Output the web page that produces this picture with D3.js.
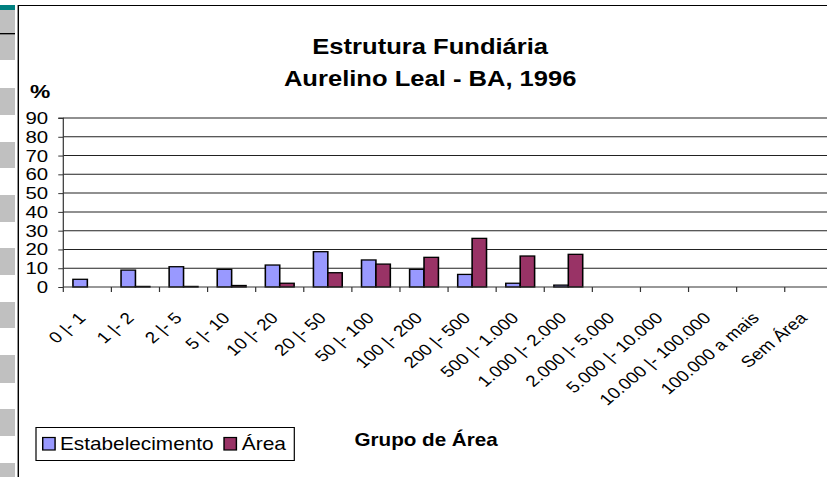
<!DOCTYPE html>
<html>
<head>
<meta charset="utf-8">
<script src="https://cdn.jsdelivr.net/npm/d3@7"></script>
<style>
  html, body { margin: 0; padding: 0; background: #fff; }
  svg { display: block; }
  text { font-family: "Liberation Sans", Arial, sans-serif; fill: #000; }
</style>
</head>
<body>
<div id="chart"></div>
<script>
const categories = [
  '0 |- 1', '1 |- 2', '2 |- 5', '5 |- 10', '10 |- 20', '20 |- 50',
  '50 |- 100', '100 |- 200', '200 |- 500', '500 |- 1.000',
  '1.000 |- 2.000', '2.000 |- 5.000', '5.000 |- 10.000',
  '10.000 |- 100.000', '100.000 a mais', 'Sem Área'
];
const estabelecimento = [4.1, 9.0, 10.8, 9.4, 11.7, 18.8, 14.4, 9.4, 6.7, 2.0, 1.0, 0, 0, 0, 0, 0];
const area = [0, 0.3, 0.3, 0.8, 2.0, 7.6, 12.2, 15.8, 25.9, 16.5, 17.4, 0, 0, 0, 0, 0];
const seriesNames = ['Estabelecimento', 'Área'];
const yTicks = [0, 10, 20, 30, 40, 50, 60, 70, 80, 90];

// the source picture is stretched sideways, so draw narrow and stretch
const SX = 1.2;
const WIDTH = 827;
const HEIGHT = 477;
const W = WIDTH / SX;

const LEFT = 52.75;
const STEP = 40.08;
const TOP = 118;
const BOTTOM = 287;
const COLORS = ['#9999ff', '#993366'];

const svg = d3
  .select('#chart')
  .append('svg')
  .attr('width', WIDTH)
  .attr('height', HEIGHT)
  .attr('viewBox', `0 0 ${W} ${HEIGHT}`)
  .attr('preserveAspectRatio', 'none');

// window side strip
const strip = svg.append('g');
strip.append('rect').attr('x', 0).attr('y', 5).attr('width', 12.5).attr('height', 5).attr('fill', '#008080');
[[10, 33], [35, 60], [88, 115], [142, 168], [195, 222], [248, 275], [302, 328], [355, 383], [409, 436], [463, 477]]
  .forEach(([a, b]) => {
    strip.append('rect').attr('x', 0).attr('y', a).attr('width', 12.5).attr('height', b - a).attr('fill', '#c0c0c0');
  });
strip.append('rect').attr('x', 0).attr('y', 33).attr('width', 12.5).attr('height', 1.5).attr('fill', '#000');

// chart frame
svg.append('path')
  .attr('d', `M15.25,${HEIGHT}V5.5H${W}`)
  .attr('fill', 'none')
  .attr('stroke', '#000')
  .attr('stroke-width', 1.2);

const x = d3
  .scaleBand()
  .domain(categories)
  .range([LEFT, LEFT + STEP * categories.length]);
const x1 = d3
  .scaleBand()
  .domain(seriesNames)
  .range([0, x.bandwidth()])
  .paddingOuter(0.67);
const y = d3.scaleLinear().domain([0, 90]).range([BOTTOM, TOP]);

// gridlines
svg.append('g')
  .selectAll('line')
  .data(yTicks.filter((d) => d > 0))
  .join('line')
  .attr('x1', LEFT)
  .attr('x2', W)
  .attr('y1', (d) => y(d))
  .attr('y2', (d) => y(d))
  .attr('stroke', '#222')
  .attr('stroke-width', 1);

// bars
const rows = categories.map((c, i) => ({ c, values: [estabelecimento[i], area[i]] }));
svg.append('g')
  .selectAll('g')
  .data(rows)
  .join('g')
  .attr('transform', (d) => `translate(${x(d.c)},0)`)
  .selectAll('rect')
  .data((d) => d.values.map((v, k) => ({ v, k })).filter((e) => e.v > 0))
  .join('rect')
  .attr('x', (d) => x1(seriesNames[d.k]))
  .attr('width', x1.bandwidth())
  .attr('y', (d) => y(d.v))
  .attr('height', (d) => y(0) - y(d.v))
  .attr('fill', (d) => COLORS[d.k])
  .attr('stroke', '#000')
  .attr('stroke-width', 1.3);

// y axis
const yAxis = svg.append('g')
  .attr('transform', `translate(${LEFT},0)`)
  .call(d3.axisLeft(y).tickValues(yTicks).tickSize(4.2).tickPadding(8.5));
yAxis.select('.domain').attr('stroke', '#333').attr('d', `M-4.2,${TOP}H0V${BOTTOM}`);
yAxis.selectAll('.tick line').attr('stroke', '#333');
yAxis.selectAll('.tick text')
  .attr('font-size', 17)
  .attr('font-family', '"Liberation Sans", Arial, sans-serif')
  .attr('fill', '#000');

// x axis line + ticks at category edges
svg.append('line')
  .attr('x1', LEFT).attr('x2', W)
  .attr('y1', BOTTOM).attr('y2', BOTTOM)
  .attr('stroke', '#333');
svg.append('g')
  .selectAll('line')
  .data(categories)
  .join('line')
  .attr('x1', (d) => x(d))
  .attr('x2', (d) => x(d))
  .attr('y1', BOTTOM)
  .attr('y2', BOTTOM + 5)
  .attr('stroke', '#333');

// x labels
svg.append('g')
  .selectAll('text')
  .data(categories)
  .join('text')
  .attr('text-anchor', 'end')
  .attr('font-size', 15.8)
  .attr('transform', (d) => `translate(${x(d) + x.bandwidth() / 2 - 0.5},319) rotate(-45)`)
  .text((d) => d);

// titles
const addText = (tx, ty, size, bold, anchor, len, str) =>
  svg.append('text')
    .attr('x', tx).attr('y', ty)
    .attr('text-anchor', anchor)
    .attr('font-size', size)
    .attr('font-weight', bold ? 'bold' : null)
    .attr('textLength', len)
    .attr('lengthAdjust', 'spacingAndGlyphs')
    .text(str);

addText(358.5, 54, 22.5, true, 'middle', 196.5, 'Estrutura Fundiária');
addText(358.5, 86, 22.5, true, 'middle', 243.8, 'Aurelino Leal - BA, 1996');
addText(25, 98, 19, true, 'start', null, '%');
addText(355.1, 446, 18, true, 'middle', 119.4, 'Grupo de Área');

// legend
const legend = svg.append('g');
legend.append('rect')
  .attr('x', 30).attr('y', 427.5)
  .attr('width', 215.25).attr('height', 33)
  .attr('fill', '#fff').attr('stroke', '#000').attr('stroke-width', 1);
const legendX = [35.6, 186.7];
const legendTextX = [50, 201.4];
const legendLen = [128, 36.9];
legend.selectAll('.sw')
  .data(seriesNames)
  .join('rect')
  .attr('class', 'sw')
  .attr('x', (d, i) => legendX[i])
  .attr('y', 437.5)
  .attr('width', 10.3)
  .attr('height', 12.5)
  .attr('fill', (d, i) => COLORS[i])
  .attr('stroke', '#000')
  .attr('stroke-width', 1.2);
legend.selectAll('.lt')
  .data(seriesNames)
  .join('text')
  .attr('class', 'lt')
  .attr('x', (d, i) => legendTextX[i])
  .attr('y', 450.5)
  .attr('font-size', 18)
  .attr('textLength', (d, i) => legendLen[i])
  .attr('lengthAdjust', 'spacingAndGlyphs')
  .text((d) => d);
</script>
</body>
</html>
